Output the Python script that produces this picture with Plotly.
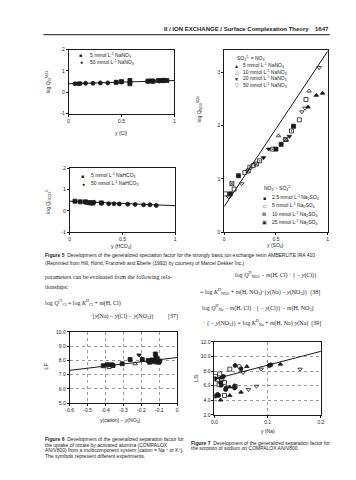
import plotly.graph_objects as go

W, H = 356, 480
SANS = "Liberation Sans, Arial, sans-serif"
SERIF = "Liberation Serif, Times New Roman, serif"
INK = "#1a1a1a"


def px(x):
    return x / W


def py(y):
    return 1 - y / H


# ---------------- Panel A: log Q(NO3/Cl) vs y(Cl) ----------------
a_sq_x = [0.45, 0.50, 0.58, 0.58, 0.75, 0.78, 0.80, 0.85, 0.88, 0.90, 0.93]
a_sq_y = [0.47, 0.50, 0.40, 0.55, 0.52, 0.53, 0.52, 0.55, 0.55, 0.56, 0.55]
a_ci_x = [0.06, 0.09, 0.11, 0.16, 0.23, 0.30, 0.37, 0.45, 0.50, 0.58, 0.75, 0.80, 0.86, 0.90]
a_ci_y = [0.40, 0.40, 0.41, 0.42, 0.42, 0.44, 0.44, 0.46, 0.48, 0.47, 0.52, 0.52, 0.53, 0.54]
a_fit_x = [0.0, 1.0]
a_fit_y = [0.40, 0.55]
a_legend = ["5 mmol L<sup>-1</sup> NaNO<sub>3</sub>", "50 mmol L<sup>-1</sup> NaNO<sub>3</sub>"]

# ---------------- Panel B: log Q(SO4/NO3) vs y(SO4) ----------------
b_tu_f_x = [0.81, 0.89, 0.95]
b_tu_f_y = [2.35, 2.57, 2.61]
b_tu_o_x = [0.525, 0.82, 0.60]
b_tu_o_y = [1.81, 2.65, 1.73]
b_td_f_x = [0.43, 0.38, 0.63]
b_td_f_y = [1.56, 1.40, 1.80]
b_td_o_x = [0.918, 0.78, 0.75, 0.044, 0.17]
b_td_o_y = [3.09, 2.33, 2.26, 0.66, 0.91]
b_sq_f_x = [0.138, 0.06, 0.55, 0.50, 0.67]
b_sq_f_y = [1.06, 0.72, 1.65, 1.56, 1.99]
b_sq_o_x = [0.013, 0.097, 0.20, 0.28, 0.726, 0.79]
b_sq_o_y = [0.72, 0.81, 1.12, 1.25, 2.11, 2.49]
b_sq_x_x = [0.075, 0.233, 0.311, 0.594]
b_sq_x_y = [0.91, 1.15, 1.28, 1.74]
b_sq_d_x = [0.248, 0.343, 0.469, 0.65]
b_sq_d_y = [1.22, 1.34, 1.56, 1.90]
b_fit_x = [0.0, 1.0]
b_fit_y = [0.48, 3.40]
b_leg1_head = "SO<sub>4</sub><sup>2-</sup> = NO<sub>3</sub><sup>-</sup>"
b_leg1 = ["5 mmol L<sup>-1</sup> NaNO<sub>3</sub>", "10 mmol L<sup>-1</sup> NaNO<sub>3</sub>",
          "20 mmol L<sup>-1</sup> NaNO<sub>3</sub>", "50 mmol L<sup>-1</sup> NaNO<sub>3</sub>"]
b_leg2_head = "NO<sub>3</sub><sup>-</sup> - SO<sub>4</sub><sup>2-</sup>"
b_leg2 = ["2.5 mmol L<sup>-1</sup> Na<sub>2</sub>SO<sub>4</sub>", "5 mmol L<sup>-1</sup> Na<sub>2</sub>SO<sub>4</sub>",
          "10 mmol L<sup>-1</sup> Na<sub>2</sub>SO<sub>4</sub>", "25 mmol L<sup>-1</sup> Na<sub>2</sub>SO<sub>4</sub>"]

# ---------------- Panel C: log Q(C/HCO3) vs y(HCO3) ----------------
c_sq_x = [0.05, 0.10, 0.15, 0.18, 0.20, 0.22, 0.30]
c_sq_y = [0.45, 0.42, 0.42, 0.38, 0.37, 0.36, 0.37]
c_ci_x = [0.15, 0.20, 0.23, 0.30, 0.37, 0.42, 0.47, 0.55, 0.62, 0.70, 0.76, 0.82]
c_ci_y = [0.40, 0.38, 0.40, 0.36, 0.33, 0.33, 0.32, 0.31, 0.30, 0.28, 0.28, 0.25]
c_fit_x = [0.0, 1.0]
c_fit_y = [0.45, 0.24]
c_legend = ["5 mmol L<sup>-1</sup> NaHCO<sub>3</sub>", "50 mmol L<sup>-1</sup> NaHCO<sub>3</sub>"]

# ---------------- Panel D: LF vs y(cation) - y(NO3) ----------------
d_sq_x = [-0.413, -0.391, -0.367, -0.358, -0.307, -0.263, -0.195, -0.162, -0.154, -0.140, -0.131, -0.122, -0.118, -0.112, -0.104, -0.098]
d_sq_y = [7.62, 7.69, 7.69, 7.64, 7.76, 8.06, 8.06, 7.99, 7.87, 8.03, 7.95, 8.45, 8.22, 8.10, 7.87, 7.95]
d_os_x = [-0.380, -0.126]
d_os_y = [7.57, 7.90]
d_td_x = [-0.213]
d_td_y = [8.38]
d_tu_o_x = [-0.235, -0.115]
d_tu_o_y = [7.76, 7.84]
d_fit_x = [-0.6, 0.0]
d_fit_y = [7.30, 8.20]
d_xticks = [-0.6, -0.5, -0.4, -0.3, -0.2, -0.1, 0.0]
d_xtext = ["-0.6", "-0.5", "-0.4", "-0.3", "-0.2", "-0.1", "0"]
d_yticks = [5, 6, 7, 8, 9, 10]
d_ytext = ["5.0", "6.0", "7.0", "8.0", "9.0", "10.0"]

# ---------------- Panel E: LS vs y(Na) ----------------
e_ci_x = [0.039, 0.050, 0.103, 0.106, 0.038, 0.021, 0.022, 0.012, 0.013, 0.001, 0.017, 0.002, 0.006, 0.008]
e_ci_y = [8.76, 8.30, 8.76, 8.85, 5.69, 5.47, 5.69, 6.36, 6.05, 6.95, 7.27, 4.57, 4.80, 4.66]
e_oc_x = [0.047]
e_oc_y = [8.62]
e_tu_x = [0.061, 0.124, 0.050, 0.038, 0.029, 0.029, 0.012, 0.012]
e_tu_y = [8.62, 8.93, 5.10, 6.00, 5.82, 4.66, 7.05, 4.03]
e_os_x = [0.029, 0.039, 0.019, 0.009, 0.006, 0.002, 0.010, 0.014, 0.019]
e_os_y = [8.26, 5.90, 4.66, 6.13, 6.82, 7.27, 7.60, 6.90, 6.45]
e_td_x = [0.088, 0.054, 0.161, 0.079, 0.064]
e_td_y = [8.26, 7.80, 8.26, 5.92, 5.47]
e_fit_x = [0.0, 0.2]
e_fit_y = [6.90, 10.70]
e_xticks = [0.0, 0.1, 0.2]
e_xtext = ["0.0", "0.1", "0.2"]
e_yticks = [2, 4, 6, 8, 10, 12]
e_ytext = ["2.0", "4.0", "6.0", "8.0", "10.0", "12.0"]

fig = go.Figure()


def pts(x, y, ax, sym, size=4):
    fig.add_trace(go.Scatter(x=x, y=y, xaxis=ax[0], yaxis=ax[1], mode="markers",
                             marker=dict(symbol=sym, size=size, color=INK,
                                         line=dict(color=INK, width=0.8)),
                             showlegend=False, hoverinfo="skip"))


def fit(x, y, ax):
    fig.add_trace(go.Scatter(x=x, y=y, xaxis=ax[0], yaxis=ax[1], mode="lines",
                             line=dict(color=INK, width=1), showlegend=False, hoverinfo="skip"))


A = ("x", "y")
B = ("x2", "y2")
C = ("x3", "y3")
D = ("x4", "y4")
E = ("x5", "y5")

fit(a_fit_x, a_fit_y, A)
pts(a_sq_x, a_sq_y, A, "square")
pts(a_ci_x, a_ci_y, A, "circle")

fit(b_fit_x, b_fit_y, B)
pts(b_tu_f_x, b_tu_f_y, B, "triangle-up")
pts(b_tu_o_x, b_tu_o_y, B, "triangle-up-open")
pts(b_td_f_x, b_td_f_y, B, "triangle-down")
pts(b_td_o_x, b_td_o_y, B, "triangle-down-open")
pts(b_sq_f_x, b_sq_f_y, B, "square")
pts(b_sq_o_x, b_sq_o_y, B, "square-open")
pts(b_sq_x_x, b_sq_x_y, B, "square-x-open")
pts(b_sq_d_x, b_sq_d_y, B, "square-open-dot")

fit(c_fit_x, c_fit_y, C)
pts(c_sq_x, c_sq_y, C, "square")
pts(c_ci_x, c_ci_y, C, "circle")

fit(d_fit_x, d_fit_y, D)
pts(d_sq_x, d_sq_y, D, "square")
pts(d_os_x, d_os_y, D, "square-open")
pts(d_td_x, d_td_y, D, "triangle-down")
pts(d_tu_o_x, d_tu_o_y, D, "triangle-up-open")

fit(e_fit_x, e_fit_y, E)
pts(e_ci_x, e_ci_y, E, "circle")
pts(e_oc_x, e_oc_y, E, "circle-open")
pts(e_tu_x, e_tu_y, E, "triangle-up")
pts(e_os_x, e_os_y, E, "square-open")
pts(e_td_x, e_td_y, E, "triangle-down-open")

tickfont = dict(family=SANS, size=5, color=INK)
base = dict(showline=True, linecolor=INK, linewidth=0.8, mirror=True, ticks="outside",
            ticklen=2, tickwidth=0.6, tickcolor=INK, tickfont=tickfont, showgrid=False,
            zeroline=False, fixedrange=True)
grid = dict(showgrid=True, gridcolor="#9a9a9a", griddash="dot", gridwidth=0.6)

fig.update_layout(
    width=W, height=H, margin=dict(l=0, r=0, t=0, b=0),
    paper_bgcolor="white", plot_bgcolor="white", showlegend=False,
    xaxis=dict(base, domain=[px(58), px(166)], range=[0, 1], tickvals=[0, 0.5, 1],
               ticktext=["0", "0.5", "1"], anchor="y"),
    yaxis=dict(base, domain=[py(104), py(39)], range=[-1, 2], tickvals=[-1, 0, 1, 2],
               ticktext=["-1", "0", "1", "2"], anchor="x"),
    xaxis2=dict(base, domain=[px(217), px(323)], range=[0, 1], tickvals=[0, 0.5, 1],
                ticktext=["0", "0.5", "1"], anchor="y2"),
    yaxis2=dict(base, domain=[py(224), py(39)], range=[0, 3.43], tickvals=[0, 1, 2, 3],
                ticktext=["0", "1", "2", "3"], anchor="x2"),
    xaxis3=dict(base, domain=[px(59), px(167)], range=[0, 1], tickvals=[0, 0.5, 1],
                ticktext=["0", "0.5", "1"], anchor="y3"),
    yaxis3=dict(base, domain=[py(224), py(159)], range=[-1, 2], tickvals=[-1, 0, 1, 2],
                ticktext=["-1", "0", "1", "2"], anchor="x3"),
    xaxis4=dict(base, **grid, domain=[px(59), px(169)], range=[-0.6, 0], tickvals=d_xticks,
                ticktext=d_xtext, anchor="y4"),
    yaxis4=dict(base, **grid, domain=[py(397), py(325)], range=[5, 10], tickvals=d_yticks,
                ticktext=d_ytext, anchor="x4"),
    xaxis5=dict(base, **grid, domain=[px(207), px(316)], range=[0, 0.2], tickvals=e_xticks,
                ticktext=e_xtext, anchor="y5"),
    yaxis5=dict(base, **grid, domain=[py(409), py(335)], range=[2, 12], tickvals=e_yticks,
                ticktext=e_ytext, anchor="x5"),
)

ann = []


def text(x, y, s, size=5, family=SANS, xanchor="left", angle=0, yanchor="middle"):
    ann.append(dict(x=px(x), y=py(y), xref="paper", yref="paper", text=s, showarrow=False,
                    xanchor=xanchor, yanchor=yanchor, textangle=angle,
                    font=dict(family=family, size=size, color=INK)))


# header
text(306, 18, "<b>II / ION EXCHANGE / Surface Complexation Theory</b>", size=6, xanchor="right")
text(326, 18, "<b>1647</b>", size=6, xanchor="right")
fig.add_shape(type="line", xref="paper", yref="paper", x0=px(32), x1=px(325), y0=py(24), y1=py(24),
              line=dict(color="#444", width=1.2))

# panel A labels / legend
text(37, 72, "log Q<sub>Cl</sub><sup>NO3</sup>", size=5, xanchor="center", angle=-90)
text(112, 124, "y (Cl)", size=5, xanchor="center")
text(70, 45, "■", size=5, xanchor="center")
text(78, 45, a_legend[0], size=5)
text(71, 52, "●", size=5, xanchor="center")
text(78, 52, a_legend[1], size=5)

# panel B labels / legends
text(192, 100, "log Q<sub>NO3</sub><sup>SO4</sup>", size=5, xanchor="center", angle=-90)
text(270, 237, "y (SO<sub>4</sub>)", size=5, xanchor="center")
text(228, 48, b_leg1_head, size=5)
for i, (g, s) in enumerate(zip(["▲", "△", "▼", "▽"], b_leg1)):
    text(230, 55.5 + i * 6.5, g, size=5, xanchor="center")
    text(234, 55.5 + i * 6.5, s, size=5)
text(256, 180, b_leg2_head, size=5)
for i, (g, s) in enumerate(zip(["■", "□", "⊠", "▣"], b_leg2)):
    text(258, 189 + i * 8.3, g, size=5, xanchor="center")
    text(264, 189 + i * 8.3, s, size=5)

# panel C labels / legend
text(37, 193, "log Q<sub>HCO3</sub><sup>C</sup>", size=5, xanchor="center", angle=-90)
text(112, 238, "y (HCO<sub>3</sub>)", size=5, xanchor="center")
text(72, 167, "■", size=5, xanchor="center")
text(79, 167, c_legend[0], size=5)
text(73, 175, "●", size=5, xanchor="center")
text(79, 175, c_legend[1], size=5)

# Figure 5 caption
text(32, 247, "<b>Figure 5</b>  Development of the generalized speciation factor for the strongly basic ion exchange resin AMBERLITE IRA 410",
     size=5)
text(32, 255, "(Reprinted from Hill, Horst, Franzreb and Eberle (1992) by courtesy of Marcel Dekker Inc.)", size=5)

# body text (left column)
text(32, 269, "parameters can be evaluated from the following rela-", size=6, family=SERIF)
text(32, 279, "tionships:", size=6, family=SERIF)
text(32, 295, "log <i>Q</i><sup>Cl</sup><sub>Cl</sub> = log <i>K</i><sup>H</sup><sub>Cl</sub> + <i>m</i>(H, Cl)",
     size=6, family=SERIF)
text(78, 309, "·{<i>y</i>(Na) − <i>y</i>(Cl) − <i>y</i>(NO<sub>3</sub>)}", size=6, family=SERIF)
text(172, 309, "[37]", size=6, family=SERIF, xanchor="right")

# body text (right column)
text(226, 267, "log <i>Q</i><sup>H</sup><sub>NO3</sub> − <i>m</i>(H, Cl) · { − <i>y</i>(Cl)}", size=6, family=SERIF)
text(190, 284, "= log <i>K</i><sup>H</sup><sub>NO3</sub> + <i>m</i>(H, NO<sub>3</sub>)·{<i>y</i>(Na) − <i>y</i>(NO<sub>3</sub>)}  [38]",
     size=6, family=SERIF)
text(192, 300, "log <i>Q</i><sup>H</sup><sub>Na</sub> − <i>m</i>(H, Cl) · { − <i>y</i>(Cl)} − <i>m</i>(H, NO<sub>3</sub>)",
     size=6, family=SERIF)
text(193, 315, "· { − <i>y</i>(NO<sub>3</sub>)} = log <i>K</i><sup>H</sup><sub>Na</sub> + <i>m</i>(H, Na)·<i>y</i>(Na)  [39]",
     size=6, family=SERIF)

# panel D labels
text(34, 360, "LF", size=6, xanchor="center", angle=-90)
text(111, 415, "y(cation) − y(NO<sub>3</sub>)", size=5, xanchor="center")

# panel E labels
text(189, 372, "LS", size=6, xanchor="center", angle=-90)
text(262, 425, "y (Na)", size=5, xanchor="center")

# Figure 6 caption
f6 = ["<b>Figure 6</b>  Development of the generalized separation factor for",
      "the uptake of nitrate by activated alumina (COMPALOX",
      "AN/V800) from a multicomponent system (cation = Na <sup>+</sup> or K<sup>+</sup>).",
      "The symbols represent different experiments."]
for i, s in enumerate(f6):
    text(32, 433 + i * 6, s, size=5)

# Figure 7 caption
f7 = ["<b>Figure 7</b>  Development of the generalized separation factor for",
      "the sorption of sodium on COMPALOX AN/V800."]
for i, s in enumerate(f7):
    text(181, 437 + i * 6, s, size=5)

fig.update_layout(annotations=ann)
fig.write_html("out.html")
